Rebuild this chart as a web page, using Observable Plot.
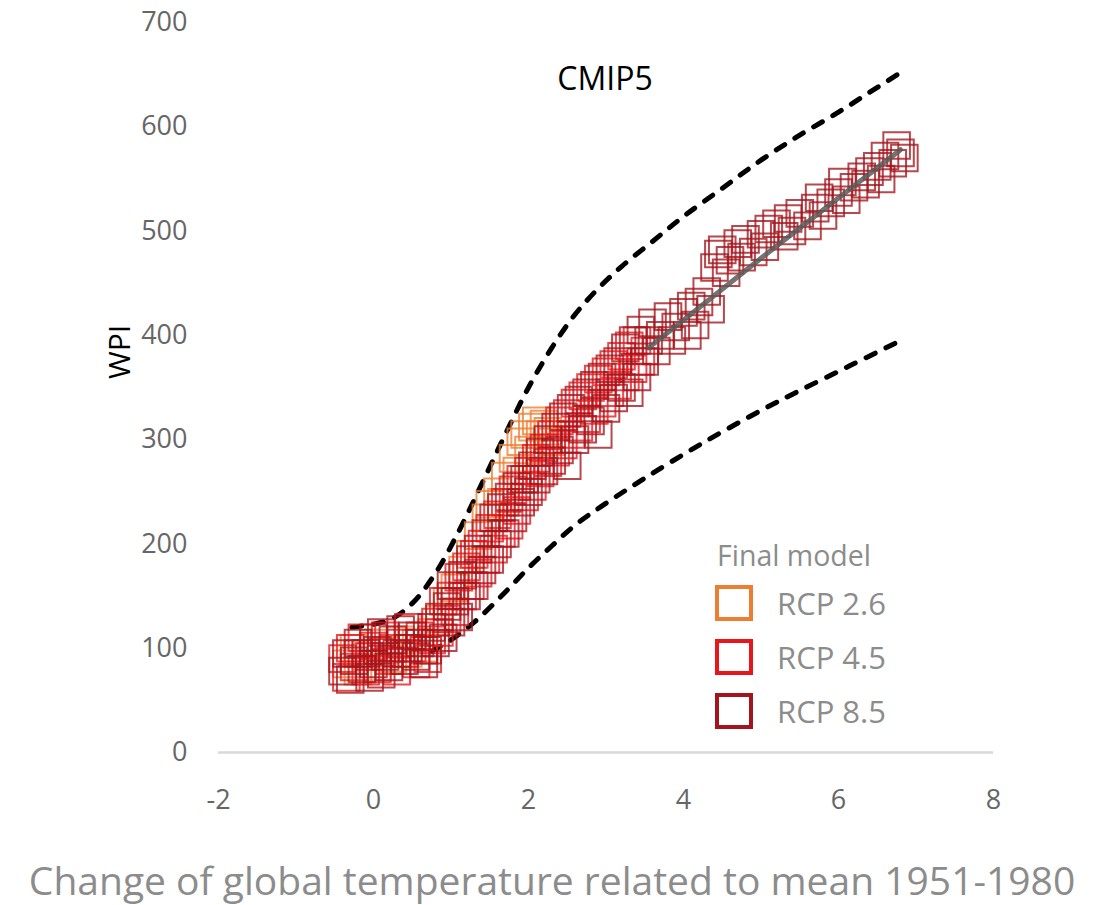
<!DOCTYPE html>
<html>
<head>
<meta charset="utf-8">
<script src="https://cdn.jsdelivr.net/npm/d3@7"></script>
<script src="https://cdn.jsdelivr.net/npm/@observablehq/plot@0.6"></script>
<style>
  html, body { margin: 0; padding: 0; background: #fff; }
  #wrap { position: relative; width: 1104px; height: 905px; overflow: hidden; font-family: "Open Sans", sans-serif; }
  #chart { position: absolute; left: 0; top: 0; }
  .abs { position: absolute; white-space: nowrap; line-height: 1.1; }
  #title { left: 605px; top: 78px; transform: translate(-50%, -50%); font-size: 32px; color: #000; }
  #ylabel { left: 118px; top: 352px; transform: translate(-50%, -50%) rotate(-90deg); font-size: 30px; color: #000; }
  #xlabel { left: 552px; top: 879px; transform: translate(-50%, -50%); font-size: 39px; color: #8c8c8c; line-height: 1; }
  #legend { left: 715px; top: 534px; color: #8c8c8c; }
  #legend .head { font-size: 28.5px; line-height: 42px; margin-left: 2px; }
  #legend .row { display: flex; align-items: center; height: 54px; }
  #legend .sw { width: 30px; height: 28px; border: 4px solid; margin-right: 24px; }
  #legend .lab { font-size: 31px; }
</style>
</head>
<body>
<div id="wrap">
  <div id="chart"></div>
  <div id="title" class="abs">CMIP5</div>
  <div id="ylabel" class="abs">WPI</div>
  <div id="xlabel" class="abs">Change of global temperature related to mean 1951-1980</div>
  <div id="legend" class="abs"></div>
</div>
<script>
// ---- data ----
const seriesNames = ["RCP 2.6", "RCP 4.5", "RCP 8.5"];
const seriesColors = ["#ED7D31", "#E8161B", "#A3141C"];
const legendTitle = "Final model";

const rcp26 = [
  [-0.35,85],[-0.25,100],[-0.2,78],[-0.1,92],[0,105],[0.05,82],[0.15,98],[0.25,90],[0.35,108],[0.45,95],
  [0.55,105],[0.65,100],[0.75,115],[0.85,128],[0.95,145],[1.05,158],[1.15,175],[1.25,190],[1.35,208],[1.45,225],
  [1.5,238],[1.6,250],[1.65,240],[1.7,265],[1.8,282],[1.85,270],[1.9,298],[1.95,305],[2.0,290],[2.05,312],
  [2.1,318],[2.15,305],[2.2,315],[2.25,308],[2.3,298]
];
const rcp45 = [
  [-0.4,90],[-0.35,72],[-0.3,100],[-0.25,82],[-0.2,95],[-0.15,110],[-0.1,78],[-0.05,92],[0,102],[0.05,80],
  [0.1,96],[0.15,112],[0.2,88],[0.25,100],[0.3,78],[0.35,105],[0.4,95],[0.45,120],[0.5,100],[0.55,85],
  [0.6,112],[0.65,98],[0.7,90],[0.75,108],[0.8,125],[0.85,115],[0.9,145],[0.95,128],[1.0,150],[1.05,135],
  [1.1,168],[1.15,150],[1.2,178],[1.25,160],[1.3,190],[1.35,172],[1.4,200],[1.45,185],[1.5,215],[1.55,195],
  [1.6,228],[1.65,210],[1.7,240],[1.75,218],[1.8,252],[1.85,232],[1.9,262],[1.95,245],[2.0,270],[2.05,255],
  [2.1,282],[2.15,268],[2.2,292],[2.25,278],[2.3,305],[2.35,288],[2.4,318],[2.45,295],[2.5,325],[2.55,305],
  [2.6,335],[2.65,312],[2.7,342],[2.75,320],[2.8,350],[2.85,328],[2.9,358],[2.95,335],[3.0,365],[3.05,345],
  [3.1,372],[3.15,352],[3.2,380],[3.25,360],[3.3,390],[3.35,368],[3.4,395],[3.45,375],[3.5,385]
];
const rcp85 = [
  [-0.4,78],[-0.35,95],[-0.3,70],[-0.25,88],[-0.2,105],[-0.15,80],[-0.1,95],[-0.05,72],[0,110],[0,85],
  [0.05,98],[0.1,75],[0.1,115],[0.15,92],[0.2,82],[0.25,108],[0.3,95],[0.35,118],[0.4,88],[0.45,100],
  [0.5,112],[0.55,92],[0.6,105],[0.65,85],[0.7,98],[0.75,120],[0.8,105],[0.85,130],[0.9,110],[0.95,140],
  [1.0,125],[1.0,160],[1.05,145],[1.1,130],[1.15,170],[1.2,150],[1.25,185],[1.3,160],[1.35,195],[1.4,175],
  [1.45,210],[1.5,185],[1.55,225],[1.6,200],[1.65,235],[1.7,210],[1.75,245],[1.8,225],[1.85,255],[1.9,240],
  [1.95,262],[2.0,250],[2.05,275],[2.1,262],[2.15,288],[2.2,270],[2.25,300],[2.3,280],[2.35,312],[2.4,290],
  [2.45,322],[2.5,275],[2.55,330],[2.6,300],[2.65,338],[2.7,310],[2.75,345],[2.8,318],[2.85,352],[2.9,305],
  [2.95,360],[3.0,330],[3.05,368],[3.1,340],[3.15,375],[3.2,350],[3.25,388],[3.3,345],[3.35,395],[3.4,360],
  [3.45,405],[3.5,375],
  [3.55,395],[3.6,412],[3.65,385],[3.7,400],[3.8,418],[3.85,395],[3.9,408],[4.0,422],[4.05,400],[4.1,428],
  [4.15,410],[4.2,432],[4.3,442],[4.35,425],[4.4,465],[4.45,478],[4.5,482],[4.55,460],[4.6,472],[4.7,488],
  [4.75,475],[4.8,492],[4.9,480],[5.0,497],[5.05,485],[5.1,502],[5.2,507],[5.3,495],[5.35,512],[5.4,500],
  [5.5,517],[5.6,505],[5.7,522],[5.75,532],[5.8,515],[5.9,527],[6.0,537],[6.05,547],[6.1,530],[6.2,542],
  [6.3,552],[6.35,545],[6.4,557],[6.5,562],[6.55,550],[6.6,572],[6.7,565],[6.75,582],[6.8,575],[6.85,570]
];
const trend = [[3.55,388],[5.0,474],[6.8,578]];
const upperBound = [
  [-0.28,120],[0.2,127],[0.5,143],[0.8,172],[1.1,212],[1.4,258],[1.7,305],[2.0,350],[2.3,388],[2.6,420],
  [2.9,445],[3.2,466],[3.6,490],[4.0,514],[4.5,541],[5.0,568],[5.5,592],[6.0,614],[6.4,633],[6.78,651]
];
const lowerBound = [
  [0.75,97],[1.0,108],[1.3,125],[1.65,150],[2.0,177],[2.3,198],[2.6,218],[2.94,236],[3.5,263],
  [4.23,296],[5.0,328],[5.5,347],[6.15,371],[6.8,395]
];
const xTicks = [-2, 0, 2, 4, 6, 8];
const yTicks = [0, 100, 200, 300, 400, 500, 600, 700];

// ---- chart ----
const seriesData = [rcp26, rcp45, rcp85];
const dashStyle = {x: d => d[0], y: d => d[1], stroke: "#000", strokeWidth: 5, strokeDasharray: "10,12", strokeLinecap: "round", curve: "catmull-rom"};

const chart = Plot.plot({
  width: 1104,
  height: 830,
  marginLeft: 218,
  marginRight: 111,
  marginTop: 22,
  marginBottom: 78,
  style: {fontFamily: "Open Sans, sans-serif", fontSize: "27px", color: "#666", background: "#fff"},
  x: {domain: [-2, 8]},
  y: {domain: [0, 700]},
  marks: [
    Plot.ruleY([0], {stroke: "#d9d9d9", strokeWidth: 2.5}),
    Plot.axisX({ticks: xTicks, tickSize: 0, tickPadding: 37, tickFormat: d => String(d), label: null, fill: "#666"}),
    Plot.axisY({ticks: yTicks, tickSize: 0, tickPadding: 31, tickFormat: d => String(d), label: null, fill: "#666"}),
    Plot.line(upperBound, dashStyle),
    Plot.line(lowerBound, dashStyle),
    ...seriesData.map((s, i) => Plot.dot(s, {
      x: d => d[0], y: d => d[1], symbol: "square", r: 15,
      stroke: seriesColors[i], strokeWidth: 2, strokeOpacity: 0.78, fill: "none"
    })),
    Plot.line(trend, {x: d => d[0], y: d => d[1], stroke: "#5a5a5a", strokeWidth: 5, strokeOpacity: 0.85})
  ]
});
document.getElementById("chart").appendChild(chart);

// ---- legend ----
const legend = document.getElementById("legend");
const head = document.createElement("div");
head.className = "head";
head.textContent = legendTitle;
legend.appendChild(head);
seriesNames.forEach((n, i) => {
  const row = document.createElement("div");
  row.className = "row";
  const sw = document.createElement("div");
  sw.className = "sw";
  sw.style.borderColor = seriesColors[i];
  const lab = document.createElement("div");
  lab.className = "lab";
  lab.textContent = n;
  row.appendChild(sw);
  row.appendChild(lab);
  legend.appendChild(row);
});
</script>
</body>
</html>
